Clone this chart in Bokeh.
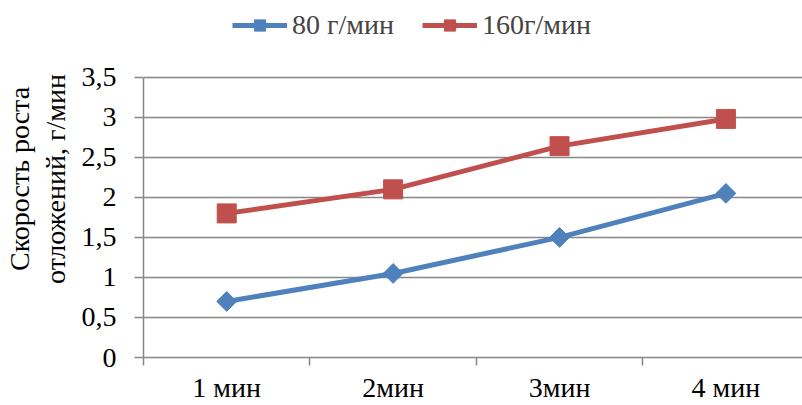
import math
from bokeh.plotting import figure
from bokeh.models import FixedTicker, Legend, LegendItem
from bokeh.embed import file_html
from bokeh.resources import INLINE

categories = ["1 мин", "2мин", "3мин", "4 мин"]
series_80 = [0.7, 1.05, 1.5, 2.05]
series_160 = [1.8, 2.1, 2.64, 2.98]
y_ticks = [0, 0.5, 1, 1.5, 2, 2.5, 3, 3.5]
y_tick_labels = ["0", "0,5", "1", "1,5", "2", "2,5", "3", "3,5"]
legend_labels = ["80 г/мин", "160г/мин"]
y_title = "Скорость роста\nотложений, г/мин"

FONT = "Liberation Serif"
FS = "28px"
GRID = "#868686"
BLUE = "#4F81BD"
RED = "#C0504D"

xs = [i + 0.5 for i in range(len(categories))]
y_top = y_ticks[-1] * 358 / 281  # headroom above the last tick for the legend

p = figure(width=802, height=405, output_backend="svg", toolbar_location=None,
           x_range=(0, 3.96), y_range=(0, y_top),
           min_border_left=143, min_border_right=0, min_border_top=0, min_border_bottom=47)
p.outline_line_color = None
p.background_fill_color = "white"
p.border_fill_color = "white"

# lines + markers
l1 = p.line(xs, series_80, line_color=BLUE, line_width=5)
m1 = p.scatter(xs, series_80, marker="square", size=14, angle=math.pi / 4,
               fill_color=BLUE, line_color=BLUE)
l2 = p.line(xs, series_160, line_color=RED, line_width=5)
m2 = p.scatter(xs, series_160, marker="square", size=19, fill_color=RED, line_color=RED)

# y axis
p.yaxis.ticker = FixedTicker(ticks=y_ticks)
p.yaxis.bounds = (y_ticks[0], y_ticks[-1])
p.yaxis.major_label_overrides = {t: s for t, s in zip(y_ticks, y_tick_labels)}
p.yaxis.axis_line_color = GRID
p.yaxis.axis_line_width = 1.5
p.yaxis.major_tick_line_color = GRID
p.yaxis.major_tick_line_width = 1.5
p.yaxis.major_tick_out = 9
p.yaxis.major_tick_in = 0
p.yaxis.minor_tick_line_color = None
p.yaxis.major_label_standoff = 18
p.yaxis.major_label_text_font = FONT
p.yaxis.major_label_text_font_size = FS
p.yaxis.major_label_text_color = "black"
p.yaxis.axis_label = y_title
p.yaxis.axis_label_text_font = FONT
p.yaxis.axis_label_text_font_size = FS
p.yaxis.axis_label_text_font_style = "normal"
p.yaxis.axis_label_text_color = "black"
p.yaxis.axis_label_text_line_height = 1.15
p.yaxis.axis_label_standoff = 8

# x axis
p.xaxis.ticker = FixedTicker(ticks=xs, minor_ticks=list(range(len(categories) + 1)))
p.xaxis.major_label_overrides = {x: c for x, c in zip(xs, categories)}
p.xaxis.axis_line_color = GRID
p.xaxis.axis_line_width = 1.5
p.xaxis.major_tick_line_color = None
p.xaxis.major_tick_out = 0
p.xaxis.major_tick_in = 0
p.xaxis.minor_tick_line_color = GRID
p.xaxis.minor_tick_line_width = 1.5
p.xaxis.minor_tick_out = 8
p.xaxis.minor_tick_in = 0
p.xaxis.major_label_standoff = 6
p.xaxis.major_label_text_font = FONT
p.xaxis.major_label_text_font_size = FS
p.xaxis.major_label_text_color = "black"

# grid
p.xgrid.grid_line_color = None
p.ygrid.ticker = FixedTicker(ticks=y_ticks)
p.ygrid.grid_line_color = GRID
p.ygrid.grid_line_width = 1.5

legend = Legend(items=[LegendItem(label=legend_labels[0], renderers=[l1, m1]),
                       LegendItem(label=legend_labels[1], renderers=[l2, m2])],
                orientation="horizontal", location=(89, 316),
                label_text_font=FONT, label_text_font_size=FS,
                glyph_width=55, glyph_height=28, label_standoff=5, spacing=28,
                border_line_color=None, background_fill_alpha=0,
                padding=4, margin=0)
p.add_layout(legend, "center")

open("out.html", "w").write(file_html(p, INLINE))
